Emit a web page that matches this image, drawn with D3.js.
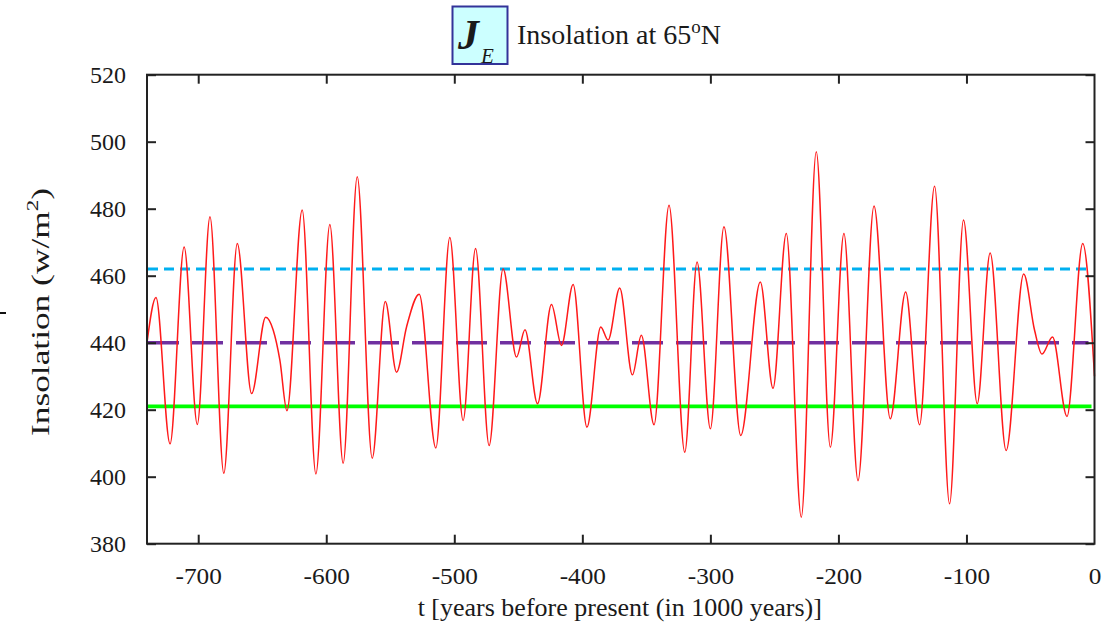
<!DOCTYPE html>
<html>
<head>
<meta charset="utf-8">
<script src="https://cdn.jsdelivr.net/npm/d3@7"></script>
<style>
  html, body { margin: 0; padding: 0; background: #ffffff; }
  svg { display: block; }
  text { font-family: "Liberation Serif", "Times New Roman", serif; fill: #1a1a1a; }
</style>
</head>
<body>
<svg id="chart" width="1118" height="632"></svg>
<script>
// ---- data ----
const timeKyr = [-740, -733, -722, -711, -700.7, -690.8, -680, -669.5, -658.3, -647.3,
  -641.4, -636.2, -630.7, -618.8, -608.1, -597.2, -586.8, -575.8, -564.1, -553.9,
  -545.1, -537.3, -527.4, -514.4, -503.5, -493.1, -483.4, -472.8, -461.9, -451.4,
  -444.8, -435.0, -424.1, -416.3, -407.2, -396.4, -385.6, -379.9, -370.8, -360.9,
  -353.9, -344.0, -332.3, -320.0, -310.4, -300.0, -289.4, -276.3, -261.0, -251.1,
  -240.7, -229.0, -217.3, -206.3, -195.7, -184.7, -172.2, -159.5, -147.5, -136.6,
  -124.9, -113.2, -102.3, -91.6, -81.5, -69.0, -55.3, -46.8, -41.0, -32.8,
  -21.5, -9.2, 0];
const insolation = [440, 453.5, 409.8, 468.6, 415.6, 477.6, 401, 469.6, 424.8, 447.6,
  443.7, 434.7, 419.7, 479.6, 400.8, 475.3, 404, 489.5, 405.5, 452.3,
  431.2, 444.7, 454.5, 408.6, 471.4, 416.8, 468.1, 409.3, 462.1, 435.7,
  443.9, 421.8, 451.4, 439.2, 457.4, 414.8, 444.7, 440.8, 456.3, 430.4,
  442.2, 415.5, 481, 407.3, 464.1, 414.3, 474.6, 412.3, 458.1, 426.4,
  472.6, 387.9, 497, 408.8, 472.6, 398.8, 480.8, 417.3, 455.1, 415.5,
  486.7, 391.9, 476.6, 421.8, 466.8, 407.8, 460.5, 443.7, 436.6, 441.7,
  418, 469.6, 430];
const refLevels = [462, 440, 421];
const xTicks = [-700, -600, -500, -400, -300, -200, -100, 0];
const yTicks = [380, 400, 420, 440, 460, 480, 500, 520];
const xDomain = [-740, 0];
const yDomain = [380, 520];
const titleText = "Insolation at 65";
const xTitle = "t [years before present (in 1000 years)]";

// ---- styles ----
const refStyles = [
  { color: "#00b0f0", width: 3.2, dash: "10,6" },
  { color: "#7030a0", width: 3.6, dash: "31,13" },
  { color: "#00ff00", width: 3.6, dash: null }
];

const svg = d3.select("#chart");
const pLeft = 147, pRight = 1094.5, pTop = 74.7, pBottom = 543.7;

const x = d3.scaleLinear().domain(xDomain).range([pLeft, pRight]);
const y = d3.scaleLinear().domain(yDomain).range([pBottom, pTop]);

// reference lines
const refData = refLevels.map((v, i) => Object.assign({ v }, refStyles[i]));
svg.append("g").selectAll("line").data(refData).join("line")
  .attr("x1", x(xDomain[0]) + 1)
  .attr("x2", d => x(xDomain[1]) - (d.dash ? 6 : 3))
  .attr("y1", d => y(d.v)).attr("y2", d => y(d.v))
  .attr("stroke", d => d.color)
  .attr("stroke-width", d => d.width)
  .attr("stroke-dasharray", d => d.dash);

// insolation curve
const series = timeKyr.map((t, i) => [t, insolation[i]]);
const line = d3.line().x(d => x(d[0])).y(d => y(d[1])).curve(d3.curveMonotoneX);
svg.append("path").datum(series)
  .attr("d", line)
  .attr("fill", "none")
  .attr("stroke", "#ff1a1a")
  .attr("stroke-width", 1.5);

// frame
svg.append("rect")
  .attr("x", pLeft).attr("y", pTop)
  .attr("width", pRight - pLeft).attr("height", pBottom - pTop)
  .attr("fill", "none").attr("stroke", "#222").attr("stroke-width", 2);

// axes with inward ticks
const tickLen = 9;
const plainFmt = d => String(d);
const axB = svg.append("g").attr("transform", `translate(0,${pBottom})`)
  .call(d3.axisBottom(x).tickValues(xTicks).tickSizeInner(-tickLen).tickSizeOuter(0).tickPadding(24).tickFormat(plainFmt));
const axT = svg.append("g").attr("transform", `translate(0,${pTop})`)
  .call(d3.axisTop(x).tickValues(xTicks).tickSizeInner(-tickLen).tickSizeOuter(0).tickFormat(""));
const axL = svg.append("g").attr("transform", `translate(${pLeft},0)`)
  .call(d3.axisLeft(y).tickValues(yTicks).tickSizeInner(-tickLen).tickSizeOuter(0).tickPadding(21).tickFormat(plainFmt));
const axR = svg.append("g").attr("transform", `translate(${pRight},0)`)
  .call(d3.axisRight(y).tickValues(yTicks).tickSizeInner(-tickLen).tickSizeOuter(0).tickFormat(""));
[axB, axT, axL, axR].forEach(g => {
  g.select(".domain").remove();
  g.selectAll(".tick line").attr("stroke", "#222").attr("stroke-width", 2);
  g.selectAll(".tick text").attr("fill", "#1a1a1a")
    .style("font-family", '"Liberation Serif", serif');
});
axL.selectAll(".tick text").style("font-size", "24px");
axB.selectAll(".tick text").style("font-size", "23px").attr("transform", "scale(1.1,1)");
axB.selectAll(".tick").filter(d => d === 0).select("line").remove();
axT.selectAll(".tick").filter(d => d === 0).select("line").remove();

// x axis title
svg.append("text")
  .attr("transform", `translate(${(pLeft + pRight) / 2 - 1},616) scale(1.04,1)`)
  .attr("text-anchor", "middle")
  .style("font-size", "25px")
  .text(xTitle);

// y axis title
const yt = svg.append("text")
  .attr("transform", "translate(49,312) rotate(-90) scale(1.36,1)")
  .attr("text-anchor", "middle")
  .style("font-size", "26px");
yt.append("tspan").text("Insolation (w/m");
yt.append("tspan").attr("dy", -11).style("font-size", "17px").text("2");
yt.append("tspan").attr("dy", 11).text(")");

// small stray mark at the left edge
svg.append("line").attr("x1", 0).attr("x2", 6).attr("y1", 313).attr("y2", 313)
  .attr("stroke", "#111").attr("stroke-width", 2);

// title box
svg.append("rect").attr("x", 452.5).attr("y", 6.5).attr("width", 55).attr("height", 57.5)
  .attr("fill", "#ccffff").attr("stroke", "#333399").attr("stroke-width", 2);
svg.append("text").attr("x", 458).attr("y", 49)
  .style("font-size", "42px").style("font-weight", "bold").style("font-style", "italic")
  .attr("fill", "#111").text("J");
svg.append("text").attr("x", 481).attr("y", 63)
  .style("font-size", "21px").style("font-style", "italic")
  .attr("fill", "#111").text("E");
const tt = svg.append("text").attr("x", 517).attr("y", 43.5).style("font-size", "28px");
tt.append("tspan").text(titleText);
tt.append("tspan").attr("dy", -11).style("font-size", "19px").text("o");
tt.append("tspan").attr("dy", 11).text("N");
</script>
</body>
</html>
